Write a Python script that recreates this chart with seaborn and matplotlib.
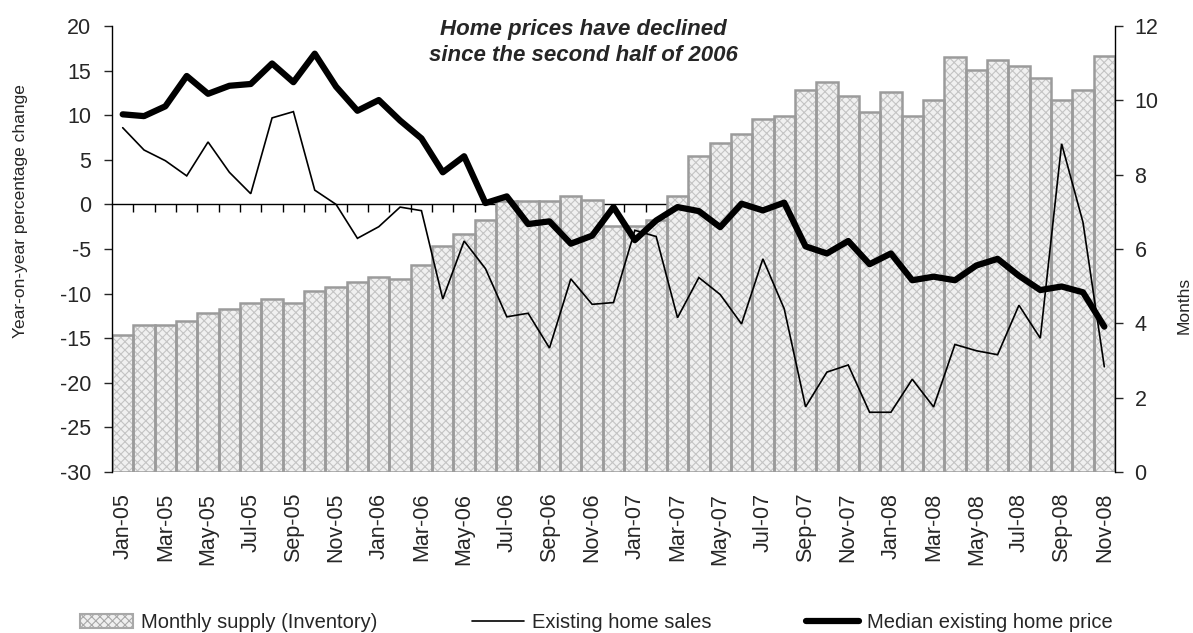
import matplotlib

matplotlib.use("Agg")
import matplotlib.pyplot as plt
import numpy as np
import pandas as pd
import seaborn as sns
from matplotlib.lines import Line2D
from matplotlib.patches import Patch

# Monthly, Jan-05 .. Nov-08
months = pd.date_range("2005-01-01", "2008-11-01", freq="MS").strftime("%b-%y").tolist()

# Months of supply (right axis, bars)
supply_months = [
    3.69, 3.96, 3.96, 4.07, 4.28, 4.39, 4.55, 4.66, 4.55, 4.88, 4.99, 5.10,
    5.25, 5.20, 5.58, 6.07, 6.40, 6.77, 7.29, 7.29, 7.29, 7.42, 7.31, 6.62,
    6.61, 6.77, 7.42, 8.50, 8.86, 9.09, 9.51, 9.57, 10.27, 10.50, 10.11, 9.69,
    10.23, 9.57, 10.00, 11.17, 10.81, 11.08, 10.92, 10.59, 10.00, 10.27, 11.20,
]
# Existing home sales, y/y % (left axis, thin line)
home_sales_yoy = [
    8.6, 6.1, 4.9, 3.2, 7.0, 3.6, 1.2, 9.7, 10.4, 1.6, 0.0, -3.8,
    -2.5, -0.3, -0.7, -10.6, -4.1, -7.2, -12.6, -12.2, -16.1, -8.35, -11.2, -11.0,
    -2.9, -3.6, -12.7, -8.2, -10.1, -13.4, -6.1, -11.7, -22.7, -18.8, -18.0, -23.3,
    -23.3, -19.6, -22.7, -15.7, -16.4, -16.85, -11.3, -15.0, 6.8, -2.0, -18.2,
]
# Median existing home price, y/y % (left axis, thick line)
median_price_yoy = [
    10.1, 9.9, 11.0, 14.4, 12.4, 13.3, 13.5, 15.8, 13.7, 16.9, 13.2, 10.5,
    11.7, 9.4, 7.4, 3.6, 5.4, 0.15, 0.9, -2.2, -1.9, -4.4, -3.5, -0.3,
    -4.0, -1.8, -0.3, -0.75, -2.55, 0.08, -0.67, 0.2, -4.7, -5.5, -4.1, -6.7,
    -5.5, -8.5, -8.1, -8.5, -6.85, -6.1, -8.0, -9.6, -9.2, -9.85, -13.7,
]

sns.set_theme(style="white")
plt.rcParams["font.family"] = ["Liberation Sans", "DejaVu Sans"]
plt.rcParams["hatch.linewidth"] = 0.8
plt.rcParams["axes.unicode_minus"] = False

df = pd.DataFrame({"month": months, "supply": supply_months,
                   "sales": home_sales_yoy, "price": median_price_yoy})
df["pos"] = np.arange(len(df))

fig = plt.figure(figsize=(11.93, 6.33), dpi=100)
ax = fig.add_axes([0.0939, 0.2543, 0.8407, 0.7046])

# bars: hatched fill, then a grey outline on top
sns.barplot(data=df, x="month", y="supply", ax=ax, width=1.0, color="#f0f0f0",
            saturation=1, edgecolor="#c4c4c4", linewidth=0, hatch="xxxx")
sns.barplot(data=df, x="month", y="supply", ax=ax, width=1.0, fill=False,
            color="#9b9b9b", linewidth=1.8)

ax2 = ax.twinx()
sns.lineplot(data=df, x="pos", y="sales", ax=ax2, color="black", lw=1.2,
             solid_joinstyle="miter")
sns.lineplot(data=df, x="pos", y="price", ax=ax2, color="black", lw=4.5,
             solid_joinstyle="round", solid_capstyle="round")

# right axis: months of supply
ax.set_ylim(0, 12)
ax.set_yticks(range(0, 13, 2))
ax.yaxis.tick_right()
ax.yaxis.set_label_position("right")
ax.tick_params(axis="y", right=True, left=False, labelright=True, labelleft=False,
               direction="out", length=5.5, width=1, labelsize=15.5, pad=8.5)
ax.set_ylabel("Months", fontsize=12.5)
ax.yaxis.set_label_coords(1.061, 0.374)

# left axis: y/y % change
ax2.set_ylim(-30, 20)
ax2.set_yticks(range(-30, 21, 5))
ax2.yaxis.tick_left()
ax2.yaxis.set_label_position("left")
ax2.tick_params(axis="y", left=True, right=False, labelleft=True, labelright=False,
                direction="out", length=5.5, width=1, labelsize=15.5, pad=9.4)
ax2.set_ylabel("Year-on-year percentage change", fontsize=12.5)
ax2.yaxis.set_label_coords(-0.084, 0.585)
ax2.set_xlabel("")

for name, sp in ax.spines.items():
    sp.set_visible(name == "right")
for name, sp in ax2.spines.items():
    sp.set_visible(name == "left")
ax.spines["right"].set_color("black")
ax.spines["right"].set_linewidth(1)
ax2.spines["left"].set_color("black")
ax2.spines["left"].set_linewidth(1)

# category labels at the bottom, every other month
ax.set_xlim(-0.5, len(df) - 0.5)
ax.set_xticks(df["pos"][::2])
ax.set_xticklabels(df["month"][::2], rotation=90, fontsize=15.5)
ax.tick_params(axis="x", bottom=False, length=0, pad=15)
ax.set_xlabel("")

# horizontal axis crossing at 0 % with tick marks between categories
lo, hi = ax2.get_ylim()
zero_axis = ax.secondary_xaxis((0 - lo) / (hi - lo))
zero_axis.set_alignment("bottom")
zero_axis.set_xticks(df["pos"][:-1] + 0.5)
zero_axis.tick_params(axis="x", bottom=True, direction="out", length=5.5, width=1,
                      color="black", labelbottom=False)
zero_axis.spines["bottom"].set_color("black")
zero_axis.spines["bottom"].set_linewidth(1)

ax2.text(0.4696, 0.993, "Home prices have declined", transform=ax2.transAxes,
         ha="center", va="center", fontsize=16, fontweight="bold", fontstyle="italic")
ax2.text(0.4696, 0.933, "since the second half of 2006", transform=ax2.transAxes,
         ha="center", va="center", fontsize=16, fontweight="bold", fontstyle="italic")

handles = [
    Patch(facecolor="#f0f0f0", edgecolor="#a8a8a8", hatch="xxxx", lw=1.5),
    Line2D([], [], color="black", lw=1.2),
    Line2D([], [], color="black", lw=4.5),
]
labels = ["Monthly supply (Inventory)", "Existing home sales", "Median existing home price"]
fig.legend(handles, labels, loc="center", bbox_to_anchor=(0.5, 0.017), ncol=3,
           frameon=False, fontsize=14.5, handlelength=2.6, handletextpad=0.4,
           columnspacing=4.7, handleheight=0.7)

fig.savefig("out.png", dpi=100)
